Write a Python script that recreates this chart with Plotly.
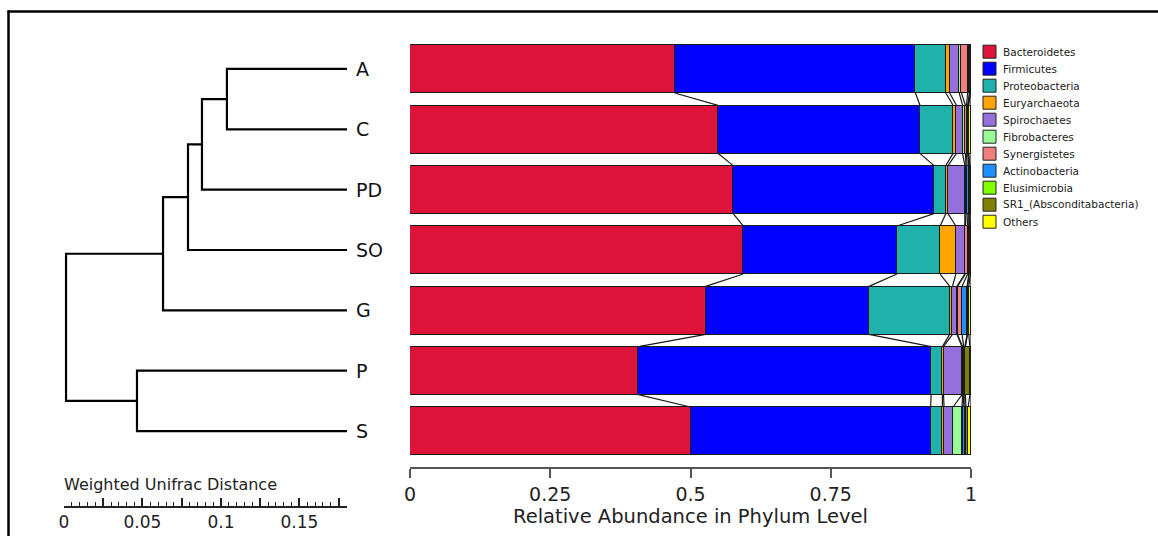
import plotly.graph_objects as go

# ---------------- data ----------------
samples = ["A", "C", "PD", "SO", "G", "P", "S"]

phyla = ["Bacteroidetes", "Firmicutes", "Proteobacteria", "Euryarchaeota",
         "Spirochaetes", "Fibrobacteres", "Synergistetes", "Actinobacteria",
         "Elusimicrobia", "SR1_(Absconditabacteria)", "Others"]

colors = ["#DC143C", "#0000FF", "#20B2AA", "#FFA500", "#9370DB", "#98FB98",
          "#F08080", "#1E90FF", "#7FFF00", "#808000", "#FFFF00"]

bacteroidetes  = [0.472, 0.549, 0.576, 0.594, 0.527, 0.407, 0.500]
firmicutes     = [0.429, 0.360, 0.358, 0.274, 0.291, 0.522, 0.428]
proteobacteria = [0.054, 0.059, 0.021, 0.077, 0.144, 0.020, 0.021]
euryarchaeota  = [0.007, 0.006, 0.004, 0.028, 0.005, 0.002, 0.003]
spirochaetes   = [0.017, 0.011, 0.030, 0.016, 0.008, 0.033, 0.016]
fibrobacteres  = [0.004, 0.005, 0.002, 0.001, 0.001, 0.001, 0.016]
synergistetes  = [0.011, 0.002, 0.002, 0.004, 0.008, 0.002, 0.002]
actinobacteria = [0.003, 0.002, 0.003, 0.002, 0.009, 0.002, 0.003]
elusimicrobia  = [0.001, 0.001, 0.001, 0.001, 0.001, 0.001, 0.002]
sr1            = [0.001, 0.001, 0.001, 0.002, 0.002, 0.008, 0.004]
others         = [0.001, 0.004, 0.002, 0.001, 0.004, 0.002, 0.005]

series = [bacteroidetes, firmicutes, proteobacteria, euryarchaeota, spirochaetes,
          fibrobacteres, synergistetes, actinobacteria, elusimicrobia, sr1, others]

bar_ticks = [0, 0.25, 0.5, 0.75, 1]
bar_tick_text = ["0", "0.25", "0.5", "0.75", "1"]

# dendrogram (weighted UniFrac), merge positions measured from root side
leaf_pos = 0.1803
merge_names = ["AC", "ACPD", "ACPDSO", "ACPDSOG", "PS", "root"]
merge_left = ["A", "AC", "ACPD", "ACPDSO", "P", "ACPDSOG"]
merge_right = ["C", "PD", "SO", "G", "S", "PS"]
merge_pos = [0.1038, 0.0879, 0.0790, 0.0631, 0.0465, 0.0013]

scale_ticks = [0, 0.025, 0.05, 0.075, 0.1, 0.125, 0.15, 0.175]
scale_tick_text = ["0", "", "0.05", "", "0.1", "", "0.15", ""]

# ---------------- layout geometry (pixels) ----------------
W, H = 1158, 536
FONT = "DejaVu Sans"


def px(x):
    return x / W


def py(y):
    return 1 - y / H


bar_width = 0.796
fig = go.Figure()

# stacked bars
for name, vals, col in zip(phyla, series, colors):
    fig.add_trace(go.Bar(
        x=vals, y=list(range(len(samples))), orientation="h", name=name,
        marker=dict(color=col, line=dict(color="#1a1a1a", width=1)),
        width=bar_width, showlegend=False, hoverinfo="skip",
        xaxis="x", yaxis="y"))

# connecting lines between consecutive bars at each cumulative boundary
cum = []
for i in range(len(samples)):
    c, s = [], 0.0
    for vals in series:
        s += vals[i]
        c.append(s)
    cum.append(c)
lx, ly = [], []
half = bar_width / 2
for i in range(len(samples) - 1):
    for k in range(len(series)):
        lx += [cum[i][k], cum[i + 1][k], None]
        ly += [i + half, i + 1 - half, None]
fig.add_trace(go.Scatter(x=lx, y=ly, mode="lines",
                         line=dict(color="#1a1a1a", width=1.2),
                         showlegend=False, hoverinfo="skip", cliponaxis=False,
                         xaxis="x", yaxis="y"))

# dendrogram
node_x = {s: leaf_pos for s in samples}
node_y = {s: i for i, s in enumerate(samples)}
dx, dy = [], []
for nm, l, r, h in zip(merge_names, merge_left, merge_right, merge_pos):
    yl, yr = node_y[l], node_y[r]
    dx += [node_x[l], h, h, node_x[r], None]
    dy += [yl, yl, yr, yr, None]
    node_x[nm] = h
    node_y[nm] = (yl + yr) / 2
fig.add_trace(go.Scatter(x=dx, y=dy, mode="lines",
                         line=dict(color="black", width=2.2),
                         showlegend=False, hoverinfo="skip", cliponaxis=False,
                         xaxis="x2", yaxis="y"))

annotations = []
for i, s in enumerate(samples):
    annotations.append(dict(x=leaf_pos, y=i, xref="x2", yref="y", text=s,
                            showarrow=False, xanchor="left", yanchor="middle",
                            xshift=7, font=dict(family=FONT, size=19, color="#111")))

annotations.append(dict(x=px(62), y=py(484), xref="paper", yref="paper",
                        text="Weighted Unifrac Distance", showarrow=False,
                        xanchor="left", yanchor="middle",
                        font=dict(family=FONT, size=16, color="#222")))

# manual legend
shapes = []
for k, (name, col) in enumerate(zip(phyla, colors)):
    cy = 51.7 + 17 * k
    shapes.append(dict(type="rect", xref="paper", yref="paper",
                       x0=px(983), x1=px(996), y0=py(cy + 6.5), y1=py(cy - 6.5),
                       fillcolor=col, line=dict(color="#222", width=1)))
    annotations.append(dict(x=px(1001), y=py(cy), xref="paper", yref="paper",
                            text=name, showarrow=False, xanchor="left",
                            yanchor="middle",
                            font=dict(family=FONT, size=10.5, color="#222")))

# frame
shapes.append(dict(type="line", xref="paper", yref="paper",
                   x0=px(7.5), x1=1, y0=py(11.5), y1=py(11.5),
                   line=dict(color="black", width=2.5)))
shapes.append(dict(type="line", xref="paper", yref="paper",
                   x0=px(8.5), x1=px(8.5), y0=py(10.5), y1=0,
                   line=dict(color="black", width=2.5)))

y_top, y_bot = 38.8, 461.2

fig.update_layout(
    template="none",
    width=W, height=H, autosize=False,
    margin=dict(l=0, r=0, t=0, b=0, pad=0, autoexpand=False),
    paper_bgcolor="white", plot_bgcolor="rgba(0,0,0,0)",
    barmode="stack", bargap=0,
    font=dict(family=FONT, color="#222"),
    shapes=shapes, annotations=annotations,
    xaxis=dict(domain=[px(410), px(971)], range=[0, 1], automargin=False,
               anchor="free", position=py(468),
               tickvals=bar_ticks, ticktext=bar_tick_text,
               ticks="outside", ticklen=9, tickwidth=2, tickcolor="#555",
               showline=True, linewidth=2, linecolor="#555",
               showgrid=False, zeroline=False,
               tickfont=dict(family=FONT, size=19, color="#222"),
               title=dict(text="Relative Abundance in Phylum Level",
                          font=dict(family=FONT, size=19.5, color="#222"),
                          standoff=0)),
    yaxis=dict(domain=[py(y_bot), py(y_top)], range=[len(samples) - 0.5, -0.5],
               anchor="x", showticklabels=False, showgrid=False, automargin=False,
               zeroline=False, showline=False, ticks=""),
    xaxis2=dict(domain=[px(64), px(347)], range=[0, leaf_pos], automargin=False,
                anchor="free", position=py(507),
                tickvals=scale_ticks, ticktext=scale_tick_text,
                ticks="inside", ticklen=8, tickwidth=1.5, tickcolor="#222",
                minor=dict(dtick=0.005, ticks="inside", ticklen=4,
                           tickwidth=1.2, tickcolor="#222", showgrid=False),
                showline=True, linewidth=2, linecolor="#222",
                showgrid=False, zeroline=False,
                tickfont=dict(family=FONT, size=17, color="#222")),
)

fig.write_html(
    "out.html",
    config={"displayModeBar": False, "responsive": False},
    post_script="document.body.style.margin='0';"
                "document.body.style.padding='0';"
                "document.body.style.overflow='hidden';",
)
